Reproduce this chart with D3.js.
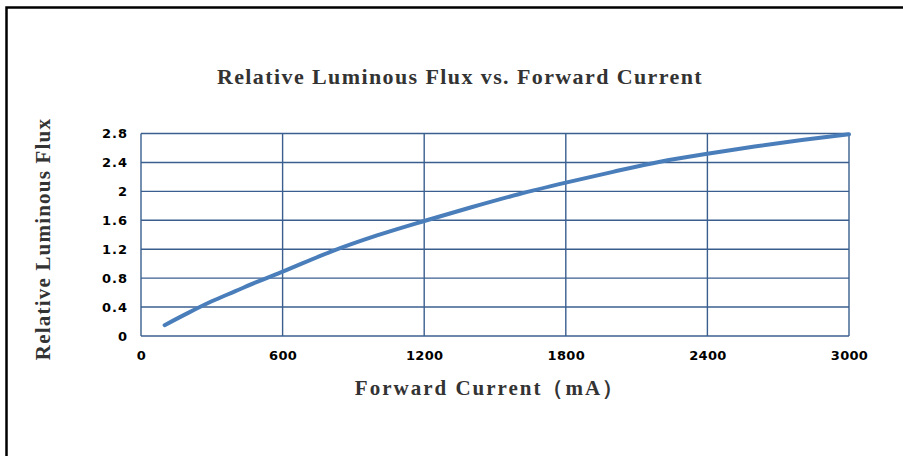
<!DOCTYPE html>
<html><head><meta charset="utf-8">
<script src="https://cdn.jsdelivr.net/npm/d3@7"></script>
<style>body{margin:0;background:#fff}svg{display:block}</style>
</head><body>
<svg id="c" width="903" height="456"></svg>
<script>
const current = [100,200,300,400,500,600,800,1000,1200,1400,1600,1800,2000,2200,2400,2600,2800,3000];
const flux    = [0.15,0.32,0.48,0.62,0.76,0.89,1.16,1.39,1.59,1.78,1.96,2.12,2.27,2.41,2.52,2.62,2.71,2.79];
const xTicks = [0,600,1200,1800,2400,3000];
const yTicks = [0,0.4,0.8,1.2,1.6,2,2.4,2.8];
const titleText = "Relative Luminous Flux vs. Forward Current";
const xTitle = "Forward Current（mA）";
const yTitle = "Relative Luminous Flux";

const svg = d3.select("#c");
const L=141, R=849, T=133.5, B=336;
const x = d3.scaleLinear().domain([0,3000]).range([L,R]);
const y = d3.scaleLinear().domain([0,2.8]).range([B,T]);

svg.append("path").attr("d","M6.5,456 L6.5,7.5 L903,7.5").attr("fill","none").attr("stroke","#000").attr("stroke-width",2.5);

const grid="#3a5f8f";
svg.append("g").selectAll("line").data(yTicks).join("line")
  .attr("x1",L).attr("x2",R).attr("y1",d=>y(d)).attr("y2",d=>y(d))
  .attr("stroke",grid).attr("stroke-width",1.4);
svg.append("g").selectAll("line").data(xTicks).join("line")
  .attr("y1",T).attr("y2",B).attr("x1",d=>x(d)).attr("x2",d=>x(d))
  .attr("stroke",grid).attr("stroke-width",1.4);

const fx = g => g.selectAll("text").attr("font-family","'DejaVu Sans',sans-serif").attr("font-weight","bold")
  .attr("font-size","13px").attr("letter-spacing","0.3px").attr("fill","#000");
svg.append("g").attr("transform",`translate(0,${B})`)
  .call(d3.axisBottom(x).tickValues(xTicks).tickSize(0).tickPadding(15).tickFormat(d3.format("d")))
  .call(g=>g.select(".domain").remove()).call(fx);
svg.append("g").attr("transform",`translate(${L},0)`)
  .call(d3.axisLeft(y).tickValues(yTicks).tickSize(0).tickPadding(13).tickFormat(d=>String(+d.toFixed(1))))
  .call(g=>g.select(".domain").remove()).call(fx)
  .call(g=>g.selectAll("text").attr("letter-spacing","1px"));

svg.append("path").datum(current.map((c,i)=>[c,flux[i]]))
  .attr("d",d3.line().x(d=>x(d[0])).y(d=>y(d[1])).curve(d3.curveMonotoneX))
  .attr("fill","none").attr("stroke","#4a7ebb").attr("stroke-width",4).attr("stroke-linecap","round");

const serif="'Liberation Serif','Times New Roman',serif";
svg.append("text").attr("x",460).attr("y",84).attr("text-anchor","middle")
  .attr("font-family",serif).attr("font-weight","bold").attr("font-size","22px").attr("letter-spacing","1.4px")
  .attr("fill","#333").text(titleText);
svg.append("text").attr("x",490).attr("y",395).attr("text-anchor","middle")
  .attr("font-family",serif).attr("font-weight","bold").attr("font-size","21px").attr("letter-spacing","2px")
  .attr("fill","#333").text(xTitle);
svg.append("text").attr("transform","translate(50,239) rotate(-90)").attr("text-anchor","middle")
  .attr("font-family",serif).attr("font-weight","bold").attr("font-size","21px").attr("letter-spacing","1.2px")
  .attr("fill","#333").text(yTitle);
</script>
</body></html>
